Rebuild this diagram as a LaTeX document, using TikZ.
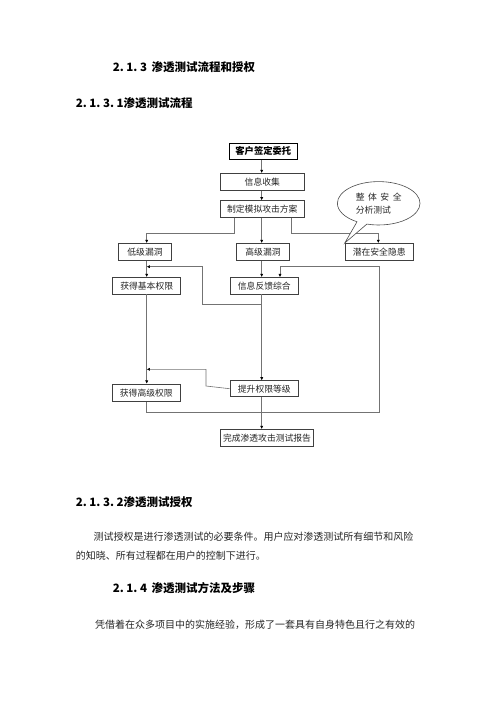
\documentclass[tikz,border=0pt]{standalone}
\usepackage{fontspec}
\usetikzlibrary{arrows.meta,shapes.callouts}
\newfontfamily\cjk{Noto Sans CJK SC}
\newcommand{\dsp}{\hspace{0.22em}}
\begin{document}
\begin{tikzpicture}[x=1pt,y=-1pt,
  box/.style={draw=black!75,line width=0.6pt,fill=white,inner sep=0pt,
    font=\cjk\fontsize{8.8}{10}\selectfont,text=black!85},
  ln/.style={draw=black!55,line width=0.6pt},
  arr/.style={ln,-{Latex[length=3.2pt,width=3.2pt,black]}},
  head/.style={anchor=west,inner sep=0pt,font=\cjk\bfseries\fontsize{11.5}{13}\selectfont},
  para/.style={anchor=west,inner sep=0pt,font=\cjk\fontsize{10}{12}\selectfont,text=black!85}]
\useasboundingbox (0,0) rectangle (500,707);
\fill[white] (0,0) rectangle (500,707);

% headings and text
\node[head] (h1) at (112.7,67.3) {2.\dsp1.\dsp3\hspace{0.4em}渗透测试流程和授权};
\node[head] (h2) at (75.7,103.3) {2.\dsp1.\dsp3.\dsp1渗透测试流程};
\node[head] (h3) at (75.7,501.7) {2.\dsp1.\dsp3.\dsp2渗透测试授权};
\node[para] (p1) at (93.3,536.7) {测试授权是进行渗透测试的必要条件。用户应对渗透测试所有细节和风险};
\node[para] (p2) at (75.7,556) {的知晓、所有过程都在用户的控制下进行。};
\node[head] (h4) at (112.7,588.3) {2.\dsp1.\dsp4\hspace{0.4em}渗透测试方法及步骤};
\node[para] (p3) at (95,625) {凭借着在众多项目中的实施经验，形成了一套具有自身特色且行之有效的};

% boxes
\node[box,draw=black,line width=1.2pt,minimum width=68pt,minimum height=16pt,font=\cjk\bfseries\fontsize{9.3}{10}\selectfont,text=black] (kh) at (263.3,151.3) {客户签定委托};
\node[box,minimum width=83.3pt,minimum height=17.3pt] (xx) at (262.3,182) {信息收集};
\node[box,minimum width=83.3pt,minimum height=16.7pt] (zd) at (262.3,209) {制定模拟攻击方案};
\node[box,minimum width=53.3pt,minimum height=17.3pt] (dj) at (145,252) {低级漏洞};
\node[box,minimum width=52.7pt,minimum height=17.3pt] (gj) at (263,252) {高级漏洞};
\node[box,minimum width=68.3pt,minimum height=17.3pt] (qz) at (379.2,252) {潜在安全隐患};
\node[box,minimum width=68pt,minimum height=16.7pt] (jb) at (146.7,285.7) {获得基本权限};
\node[box,minimum width=68.7pt,minimum height=16.7pt] (fk) at (264.3,285.7) {信息反馈综合};
\node[box,minimum width=68.7pt,minimum height=16pt] (ts) at (264.3,388.7) {提升权限等级};
\node[box,minimum width=67.3pt,minimum height=17.7pt] (gq) at (146.3,392.8) {获得高级权限};
\node[box,minimum width=92.7pt,minimum height=16.7pt] (wc) at (267,437.7) {完成渗透攻击测试报告};

% helper coordinates
\coordinate (cx) at (261.7,0);
\coordinate (lx) at (146.7,0);
\coordinate (j1) at (146.7,266.7);
\coordinate (j2) at (146.7,369.3);

% connectors
\draw[arr] (kh.south -| cx) -- (xx.north -| cx);
\draw[arr] (xx.south -| cx) -- (zd.north -| cx);
\draw[arr] (zd.south -| 234.3,0) -- (234.3,233.3) -- (146.7,233.3) -- (dj.north -| lx);
\draw[arr] (zd.south -| cx) -- (gj.north -| cx);
\draw[arr] (zd.south -| 291.7,0) -- (291.7,233.3) -- (378.3,233.3) -- (qz.north -| 378.3,0);
\draw[arr] (dj.south -| lx) -- (jb.north -| lx);
\draw[arr] (gj.south -| cx) -- (fk.north -| cx);
\draw[arr] (fk.south -| cx) -- (261.7,304) -- (202.7,304) -- (202.7,266.7) -- (j1);
\draw[arr] (fk.south -| cx) -- (ts.north -| cx);
\draw[arr] (jb.south -| lx) -- (gq.north -| lx);
\draw[arr] (ts.west) -- (206,386) -- (206,369.3) -- (j2);
\draw[arr] (gq.south -| lx) -- (146.7,412.7) -- (379.3,412.7) -- (379.3,266.7) -- (280,266.7) -- (fk.north -| 280,0);
\draw[arr] (ts.south -| cx) -- (wc.north -| cx);

% callout bubble
\node[ellipse callout,draw=black!70,line width=0.6pt,fill=white,
  minimum width=82.6pt,minimum height=43.4pt,inner sep=0pt,
  callout absolute pointer={(qz.north west)},
  font=\cjk\fontsize{8.8}{13}\selectfont,text=black!85,align=left] (bb) at (378.7,203.3)
  {整\hspace{0.4em}体\hspace{0.4em}安\hspace{0.4em}全\\分析测试};
\end{tikzpicture}
\end{document}
